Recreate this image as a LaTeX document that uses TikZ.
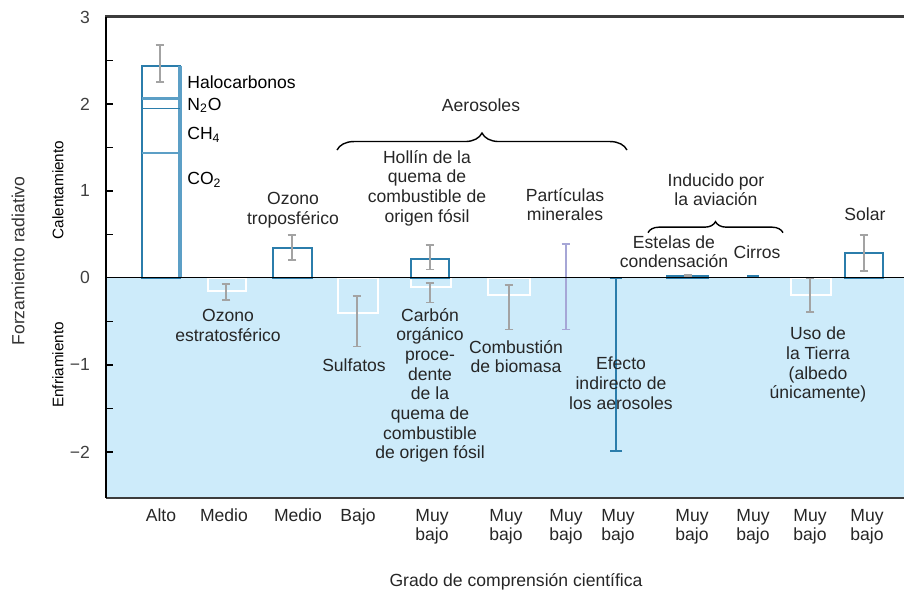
\documentclass[tikz,border=0pt]{standalone}
\usepackage{fontspec}
\setmainfont{Liberation Sans}
\usetikzlibrary{arrows.meta,decorations.pathreplacing}
\definecolor{barblue}{HTML}{2B7DAB}
\definecolor{barlight}{HTML}{5C9FC6}
\definecolor{coolblue}{HTML}{CDEBFA}
\definecolor{errgrey}{HTML}{A3A3A3}
\definecolor{dustpurple}{HTML}{A6A6D6}
\definecolor{framegrey}{HTML}{3C3C3C}

\begin{document}
\begin{tikzpicture}[x=0.02cm,y=1.74cm,
    font=\fontsize{10}{11.2}\selectfont,
    lbl/.style={align=center,anchor=north,inner sep=0pt,text=black!85},
    posbar/.style={draw=barblue,line width=1.1pt},
    negbar/.style={draw=white,line width=1.2pt},
    errbar/.style={draw=errgrey,line width=0.9pt,{Bar[width=5pt]}-{Bar[width=5pt]}},
    brace/.style={decorate,decoration={brace,amplitude=#1},line width=0.8pt}]
    \useasboundingbox (0,3.195) rectangle (904,-3.69);

    \fill[coolblue] (106,0) rectangle (904,-2.53);

    % cooling boxes
    \draw[negbar] (208,0) rectangle (246,-0.15)
    (338,0) rectangle (378,-0.4)
    (411,0) rectangle (451,-0.1)
    (488,0) rectangle (530,-0.2)
    (791,0) rectangle (831,-0.2);

    % warming boxes
    \draw[posbar] (142,0) rectangle (180,2.44)
    (273,0) rectangle (312,0.34)
    (411,0) rectangle (449,0.22)
    (667,0) rectangle (708,0.025)
    (845,0) rectangle (883,0.29);
    \draw[barlight,line width=1.8pt] (180,0) -- (180,2.44);
    \draw[barlight,line width=1.6pt] (142,2.06) -- (180,2.06);
    \draw[barblue,line width=0.8pt] (142,1.95) -- (180,1.95);
    \draw[barlight,line width=1.3pt] (142,1.44) -- (180,1.44);
    \fill[barblue] (747,0) rectangle (759,0.035);

    \foreach \x/\a/\b in {160/2.69/2.24, 226/-0.06/-0.26, 292/0.5/0.2,
      357/-0.2/-0.8, 430/0.39/0.09, 430/-0.05/-0.29, 509/-0.07/-0.6,
      688/0.045/0.005, 810/0/-0.4, 864/0.5/0.07}
      \draw[errbar] (\x,\a) -- (\x,\b);
    \draw[errbar,draw=dustpurple] (566,0.4) -- (566,-0.6);
    \draw[errbar,draw=barblue,{Bar[width=7pt]}-{Bar[width=7pt]}] (616,0) -- (616,-2);

    % axes
    \draw[line width=0.6pt] (106,0) -- (904,0);
    \draw[framegrey,line width=1.7pt] (105,3) -- (904,3);
    \draw[framegrey,line width=1.4pt] (106,-2.53) -- (904,-2.53);
    \draw[line width=0.9pt] (106,3) -- (106,-2.53);
    \foreach \v in {-2,-1.5,-1,-0.5,0.5,1,1.5,2,2.5}
      \draw[line width=0.9pt] (106,\v) -- (113,\v);
    \foreach \v/\t [count=\i] in {3/3,2/2,1/1,0/0,-1/−1,-2/−2}
      \node[anchor=east,text=black!75] (ytick\i) at (96,\v) {\t};

    \node[rotate=90,text=black!80] (forz) at (18,0.195) {Forzamiento radiativo};
    \node[rotate=90,font=\fontsize{8.7}{10}\selectfont] (calor) at (58,1.01) {Calentamiento};
    \node[rotate=90,font=\fontsize{8.7}{10}\selectfont] (frio) at (58,-1.0) {Enfriamiento};

    % labels
    \node[anchor=base west,inner sep=0pt] (halo) at (187,2.18) {Halocarbonos};
    \node[anchor=base west,inner sep=0pt] (ntwo) at (187,1.93) {N\textsubscript{2}O};
    \node[anchor=base west,inner sep=0pt] (chfour) at (187,1.59) {CH\textsubscript{4}};
    \node[anchor=base west,inner sep=0pt] (cotwo) at (187,1.07) {CO\textsubscript{2}};
    \node[lbl] (oztrop) at (293,0.989) {Ozono\\troposférico};
    \node[lbl] (ozstrat) at (228,-0.356) {Ozono\\estratosférico};
    \node[lbl] (sulf) at (354,-0.92) {Sulfatos};
    \node[lbl] (hollin) at (427,1.471) {Hollín de la\\quema de\\combustible de\\origen fósil};
    \node[lbl] (carbon) at (430,-0.345) {Carbón\\orgánico\\proce-\\dente\\de la\\quema de\\combustible\\de origen fósil};
    \node[lbl] (biomasa) at (516,-0.713) {Combustión\\de biomasa};
    \node[lbl] (polvo) at (565,1.034) {Partículas\\minerales};
    \node[lbl] (indirecto) at (621,-0.908) {Efecto\\indirecto de\\los aerosoles};
    \node[lbl] (aerosoles) at (481,2.069) {Aerosoles};
    \node[lbl] (estelas) at (674,0.494) {Estelas de\\condensación};
    \node[lbl] (cirros) at (757,0.379) {Cirros};
    \node[lbl] (aviacion) at (716,1.207) {Inducido por\\la aviación};
    \node[lbl] (suelo) at (818,-0.563) {Uso de\\la Tierra\\(albedo\\únicamente)};
    \node[lbl] (solar) at (865,0.805) {Solar};

    \draw[brace=0.34cm] (337,1.47) -- (627,1.47);
    \draw[brace=0.22cm] (648,0.52) -- (783,0.52);

    \foreach \x/\t [count=\i] in {161/Alto, 224/Medio, 298/Medio, 358/Bajo,
      432/Muy\\bajo, 506/Muy\\bajo, 566/Muy\\bajo, 618/Muy\\bajo,
      692/Muy\\bajo, 753/Muy\\bajo, 810/Muy\\bajo, 867/Muy\\bajo}
      \node[lbl] (nivel\i) at (\x,-2.655) {\t};
    \node[lbl] (grado) at (516,-3.391) {Grado de comprensión científica};
\end{tikzpicture}
\end{document}
